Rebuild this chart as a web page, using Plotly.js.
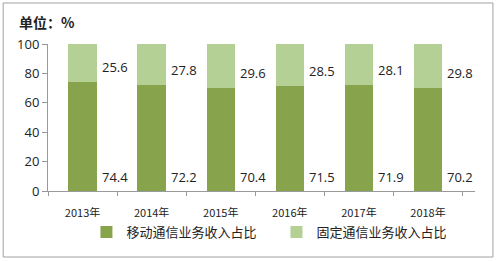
<!DOCTYPE html>
<html>
<head>
<meta charset="utf-8">
<script src="https://cdn.plot.ly/plotly-3.0.1.min.js"></script>
<style>html,body{margin:0;padding:0;background:#fff;}#chart{width:500px;height:261px;}</style>
</head>
<body>
<div id="chart"></div>
<script>
const years = ['2013年','2014年','2015年','2016年','2017年','2018年'];
const mobileShare = [74.4, 72.2, 70.4, 71.5, 71.9, 70.2];
const fixedShare = [25.6, 27.8, 29.6, 28.5, 28.1, 29.8];
const seriesNames = ['移动通信业务收入占比', '固定通信业务收入占比'];
const yTicks = [0, 20, 40, 60, 80, 100];

const darkGreen = '#87a44c';
const lightGreen = '#b5d094';
const numFont = {family: 'Open Sans, Liberation Sans, sans-serif', size: 13, color: '#222'};

const traces = [
  {type: 'bar', x: years, y: mobileShare, name: seriesNames[0], marker: {color: darkGreen}, hoverinfo: 'none'},
  {type: 'bar', x: years, y: fixedShare, name: seriesNames[1], marker: {color: lightGreen}, hoverinfo: 'none'}
];

const annotations = [];
years.forEach((yr, i) => {
  annotations.push({x: yr, y: 0, xref: 'x', yref: 'y', text: mobileShare[i].toFixed(1), showarrow: false,
    xshift: 32, yshift: 14, yanchor: 'middle', xanchor: 'center', font: numFont});
  annotations.push({x: yr, y: mobileShare[i], xref: 'x', yref: 'y', text: fixedShare[i].toFixed(1), showarrow: false,
    xshift: 32, yshift: 15, yanchor: 'middle', xanchor: 'center', font: numFont});
});
annotations.push({x: -0.073, y: 1.15, xref: 'paper', yref: 'paper', text: '<b>单位：%</b>', showarrow: false,
  xanchor: 'left', yanchor: 'middle', font: {family: 'Noto Sans CJK SC, sans-serif', size: 14, color: '#222'}});

const layout = {
  width: 500, height: 261,
  margin: {l: 48, r: 25, t: 44, b: 70},
  paper_bgcolor: '#fff', plot_bgcolor: '#fff',
  barmode: 'stack', bargap: 0.59,
  showlegend: true,
  legend: {orientation: 'h', traceorder: 'normal', x: 0.535, xanchor: 'center', y: -0.279, yanchor: 'middle',
    entrywidth: 145, entrywidthmode: 'pixels', itemwidth: 30,
    font: {family: 'Noto Sans CJK SC, sans-serif', size: 13, color: '#222'}},
  xaxis: {type: 'category', showline: true, linecolor: '#999', linewidth: 1, ticks: 'outside', ticklen: 4,
    tickcolor: '#999', tickson: 'boundaries', showgrid: false, zeroline: false, automargin: false,
    ticklabelstandoff: 12,
    tickfont: {family: 'Noto Sans CJK SC, sans-serif', size: 11, color: '#222'}},
  yaxis: {range: [0, 100], tickvals: yTicks, showline: true, linecolor: '#999', linewidth: 1, automargin: false,
    ticks: 'outside', ticklen: 5, tickcolor: '#999', showgrid: false, zeroline: false,
    tickfont: {family: 'Open Sans, Liberation Sans, sans-serif', size: 13, color: '#222'}},
  annotations: annotations,
  shapes: [{type: 'rect', xref: 'paper', yref: 'paper', x0: -0.105, x1: 1.042, y0: -0.449, y1: 1.279,
    line: {color: '#a0a0a0', width: 1}, fillcolor: 'rgba(0,0,0,0)', layer: 'below'}]
};

Plotly.newPlot('chart', traces, layout, {displayModeBar: false, staticPlot: true});
</script>
</body>
</html>
